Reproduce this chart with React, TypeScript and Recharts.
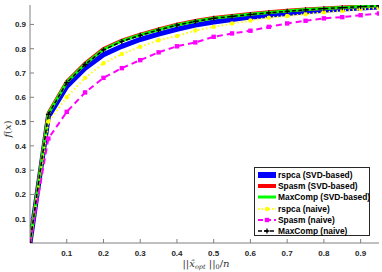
import React from 'react';
import { LineChart, Line, XAxis, YAxis, Legend } from 'recharts';

const xValues = [0, 0.05, 0.1, 0.15, 0.2, 0.25, 0.3, 0.35, 0.4, 0.45, 0.5, 0.55, 0.6, 0.65, 0.7, 0.75, 0.8, 0.85, 0.9, 0.95];
const rspcaSvd = [0, 0.52, 0.645, 0.72, 0.775, 0.81, 0.838, 0.86, 0.88, 0.897, 0.91, 0.92, 0.93, 0.938, 0.945, 0.952, 0.958, 0.963, 0.968, 0.972];
const spasmSvd = [0, 0.535, 0.665, 0.74, 0.8, 0.834, 0.859, 0.88, 0.9, 0.915, 0.928, 0.936, 0.944, 0.951, 0.957, 0.962, 0.967, 0.971, 0.975, 0.978];
const maxcompSvd = [0, 0.532, 0.662, 0.737, 0.797, 0.832, 0.857, 0.878, 0.898, 0.913, 0.926, 0.934, 0.942, 0.949, 0.955, 0.961, 0.966, 0.97, 0.974, 0.977];
const rspcaNaive = [0, 0.5, 0.6, 0.68, 0.74, 0.778, 0.808, 0.835, 0.852, 0.875, 0.89, 0.904, 0.916, 0.928, 0.935, 0.942, 0.95, 0.956, 0.962, 0.967];
const spasmNaive = [0, 0.43, 0.54, 0.62, 0.68, 0.72, 0.753, 0.785, 0.81, 0.826, 0.849, 0.863, 0.874, 0.89, 0.904, 0.915, 0.925, 0.93, 0.938, 0.945];
const maxcompNaive = [0, 0.53, 0.66, 0.735, 0.795, 0.83, 0.855, 0.877, 0.897, 0.912, 0.925, 0.933, 0.941, 0.948, 0.954, 0.96, 0.965, 0.969, 0.973, 0.977];

const xTicks = [0.1, 0.2, 0.3, 0.4, 0.5, 0.6, 0.7, 0.8, 0.9];
const yTicks = [0.1, 0.2, 0.3, 0.4, 0.5, 0.6, 0.7, 0.8, 0.9];

const data = xValues.map((x, i) => ({
  x,
  rspcaSvd: rspcaSvd[i],
  spasmSvd: spasmSvd[i],
  maxcompSvd: maxcompSvd[i],
  rspcaNaive: rspcaNaive[i],
  spasmNaive: spasmNaive[i],
  maxcompNaive: maxcompNaive[i],
}));

const FONT = '"Liberation Sans", Arial, sans-serif';
const AXIS = '#808080';
const LABEL = '#262626';

const BottomTick = (props: any) => {
  const { x, y, payload } = props;
  return (
    <g>
      <line x1={x} y1={y} x2={x} y2={y - 4} stroke={AXIS} />
      <text x={x} y={y + 13} textAnchor="middle" fontFamily={FONT} fontWeight="bold" fontSize={8} fill={LABEL}>
        {payload.value}
      </text>
    </g>
  );
};

const LeftTick = (props: any) => {
  const { x, y, payload } = props;
  return (
    <g>
      <line x1={x} y1={y} x2={x + 4} y2={y} stroke={AXIS} />
      <text x={x - 4} y={y + 3} textAnchor="end" fontFamily={FONT} fontWeight="bold" fontSize={8} fill={LABEL}>
        {payload.value}
      </text>
    </g>
  );
};

const TopTick = (props: any) => {
  const { x, y } = props;
  return <line x1={x} y1={y} x2={x} y2={y + 4} stroke={AXIS} />;
};

const RightTick = (props: any) => {
  const { x, y } = props;
  return <line x1={x} y1={y} x2={x - 4} y2={y} stroke={AXIS} />;
};

const circleDot = (props: any) => {
  const { cx, cy, key } = props;
  return <circle key={key} cx={cx} cy={cy} r={2.2} fill="#FFFF00" />;
};

const squareDot = (props: any) => {
  const { cx, cy, key } = props;
  return <rect key={key} x={cx - 2.2} y={cy - 2.2} width={4.4} height={4.4} fill="#FF00FF" />;
};

const plusDot = (props: any) => {
  const { cx, cy, key } = props;
  return (
    <path key={key} d={`M${cx - 2.5},${cy}H${cx + 2.5}M${cx},${cy - 2.5}V${cy + 2.5}`} stroke="#000" strokeWidth={1.3} />
  );
};

const legendItems = [
  { name: 'rspca (SVD-based)', color: '#0000FF', width: 6, dash: undefined, marker: null },
  { name: 'Spasm (SVD-based)', color: '#FF0000', width: 4, dash: undefined, marker: null },
  { name: 'MaxComp (SVD-based)', color: '#00FF00', width: 3, dash: undefined, marker: null },
  { name: 'rspca (naive)', color: '#FFFF00', width: 2, dash: '1.5 2', marker: 'circle' },
  { name: 'Spasm (naive)', color: '#FF00FF', width: 2, dash: '5 3', marker: 'square' },
  { name: 'MaxComp (naive)', color: '#000000', width: 1.5, dash: '4 2', marker: 'plus' },
];

const LegendBox = () => (
  <div
    style={{
      width: 116,
      height: 69,
      border: '1px solid #262626',
      background: '#fff',
      boxSizing: 'border-box',
      paddingTop: 1,
    }}
  >
    {legendItems.map((it) => (
      <div key={it.name} style={{ display: 'flex', alignItems: 'center', height: 11.3 }}>
        <svg width={22} height={10} style={{ marginLeft: 1, flex: 'none' }}>
          <line x1={2} y1={5} x2={20} y2={5} stroke={it.color} strokeWidth={it.width} strokeDasharray={it.dash} />
          {it.marker === 'circle' && <circle cx={11} cy={5} r={2.2} fill={it.color} />}
          {it.marker === 'square' && <rect x={8.8} y={2.8} width={4.4} height={4.4} fill={it.color} />}
          {it.marker === 'plus' && <path d="M8.5,5H13.5M11,2.5V7.5" stroke={it.color} strokeWidth={1.3} />}
        </svg>
        <span style={{ fontFamily: FONT, fontWeight: 'bold', fontSize: 8.4, color: '#000', whiteSpace: 'nowrap' }}>
          {it.name}
        </span>
      </div>
    ))}
  </div>
);

export default function App() {
  return (
    <div style={{ position: 'absolute', left: 0, top: 0, width: 382, height: 272, background: '#fff' }}>
      <LineChart width={382} height={272} data={data} margin={{ top: 5, right: 3, bottom: 0, left: 0 }}>
        <XAxis
          dataKey="x"
          type="number"
          domain={[0, 0.95]}
          ticks={xTicks}
          allowDataOverflow
          height={29}
          tickSize={0}
          tickMargin={0}
          tickLine={false}
          axisLine={{ stroke: AXIS }}
          tick={<BottomTick />}
          interval={0}
          label={{
            content: (p: any) => {
              const vb = p.viewBox;
              const cx = vb.x + vb.width / 2;
              return (
                <text x={cx - 22} y={vb.y + 24} fontFamily='"DejaVu Serif", serif' fontSize={10} fill="#333">
                  <tspan>||</tspan>
                  <tspan fontStyle="italic">x̂</tspan>
                  <tspan fontStyle="italic" fontSize={6.5} dy={2}>opt</tspan>
                  <tspan dy={-2}> ||</tspan>
                  <tspan fontSize={6.5} dy={2}>0</tspan>
                  <tspan dy={-2}>/</tspan>
                  <tspan fontStyle="italic">n</tspan>
                </text>
              );
            },
          }}
        />
        <XAxis
          xAxisId="top"
          orientation="top"
          dataKey="x"
          type="number"
          domain={[0, 0.95]}
          ticks={xTicks}
          allowDataOverflow
          height={0}
          tickSize={0}
          tickMargin={0}
          tickLine={false}
          axisLine={{ stroke: AXIS }}
          tick={<TopTick />}
          interval={0}
        />
        <YAxis
          type="number"
          domain={[0, 0.98]}
          ticks={yTicks}
          allowDataOverflow
          width={30}
          tickSize={0}
          tickMargin={0}
          tickLine={false}
          axisLine={{ stroke: AXIS }}
          tick={<LeftTick />}
          interval={0}
          label={{
            content: (p: any) => {
              const vb = p.viewBox;
              const cy = vb.y + vb.height / 2 + 5;
              return (
                <text
                  x={11}
                  y={cy}
                  transform={`rotate(-90 11 ${cy})`}
                  textAnchor="middle"
                  fontFamily='"DejaVu Serif", serif'
                  fontSize={10}
                  fill="#333"
                >
                  <tspan fontStyle="italic">f</tspan>
                  <tspan>(</tspan>
                  <tspan fontStyle="italic">x</tspan>
                  <tspan>)</tspan>
                </text>
              );
            },
          }}
        />
        <YAxis
          yAxisId="right"
          orientation="right"
          type="number"
          domain={[0, 0.98]}
          ticks={yTicks}
          allowDataOverflow
          width={0}
          tickSize={0}
          tickMargin={0}
          tickLine={false}
          axisLine={{ stroke: AXIS }}
          tick={<RightTick />}
          interval={0}
        />
        <Legend
          verticalAlign="middle"
          align="center"
          layout="horizontal"
          content={<LegendBox />}
          wrapperStyle={{ position: 'absolute', left: 254, top: 167, width: 116 }}
        />
        <Line dataKey="rspcaSvd" name="rspca (SVD-based)" stroke="#0000FF" strokeWidth={5} dot={false} isAnimationActive={false} />
        <Line dataKey="spasmSvd" name="Spasm (SVD-based)" stroke="#FF0000" strokeWidth={3.5} dot={false} isAnimationActive={false} />
        <Line dataKey="maxcompSvd" name="MaxComp (SVD-based)" stroke="#00FF00" strokeWidth={3} dot={false} isAnimationActive={false} />
        <Line dataKey="rspcaNaive" name="rspca (naive)" stroke="#FFFF00" strokeWidth={2} strokeDasharray="1.5 2.5" dot={circleDot} isAnimationActive={false} />
        <Line dataKey="spasmNaive" name="Spasm (naive)" stroke="#FF00FF" strokeWidth={2} strokeDasharray="6 4" dot={squareDot} isAnimationActive={false} />
        <Line dataKey="maxcompNaive" name="MaxComp (naive)" stroke="#000000" strokeWidth={1.5} strokeDasharray="4 2.5" dot={plusDot} isAnimationActive={false} />
      </LineChart>
    </div>
  );
}
